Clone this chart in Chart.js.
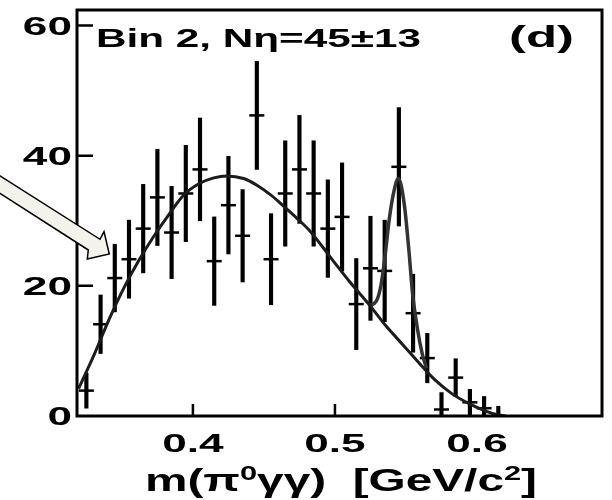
<!DOCTYPE html>
<html>
<head>
<meta charset="utf-8">
<script src="https://cdn.jsdelivr.net/npm/chart.js@4.4.1/dist/chart.umd.min.js"></script>
<style>
  html, body { margin: 0; padding: 0; background: #fff; }
  #wrap { width: 612px; height: 500px; }
</style>
</head>
<body>
<div id="wrap"><canvas id="massChart" width="612" height="500"></canvas></div>
<script>
// m(pi0 gamma gamma) spectrum, bin 2
const binCenters = [0.325, 0.335, 0.345, 0.355, 0.365, 0.375, 0.385, 0.395, 0.405, 0.415,
                    0.425, 0.435, 0.445, 0.455, 0.465, 0.475, 0.485, 0.495, 0.505, 0.515,
                    0.525, 0.535, 0.545, 0.555, 0.565, 0.575, 0.585, 0.595, 0.605, 0.615];
const counts = [3.9, 14.1, 21.2, 24.1, 28.8, 33.6, 28.2, 34.2, 37.9, 23.8,
                32.4, 27.7, 46.2, 24.1, 34.2, 37.9, 34.2, 28.8, 30.6, 17.2,
                22.7, 22.3, 38.3, 15.8, 8.9, 1.0, 5.9, 2.1, 1.2, 0];
const errors = [2.7, 4.5, 5.2, 6.0, 6.8, 7.4, 7.1, 7.4, 7.9, 6.8,
                7.5, 7.1, 8.3, 7.0, 8.1, 8.3, 8.1, 7.5, 8.3, 7.0,
                8.0, 7.8, 9.1, 6.0, 3.8, 2.6, 2.9, 2.0, 1.8, 1.5];

// fitted background
const bgX = [0.3195, 0.3308, 0.3413, 0.3517, 0.3622, 0.3727, 0.3832, 0.3937, 0.4042, 0.4147,
             0.4238, 0.4357, 0.4448, 0.4552, 0.4636, 0.4727, 0.4825, 0.4916, 0.5007, 0.5105,
             0.5175, 0.5245, 0.5357, 0.5476, 0.5594, 0.5706, 0.5825, 0.5944, 0.6056, 0.6154, 0.620];
const bgY = [4.2, 9.6, 15.0, 19.8, 24.0, 27.7, 31.0, 34.0, 35.7, 36.6,
             36.9, 36.5, 35.5, 33.9, 32.3, 30.5, 28.4, 25.9, 23.3, 20.6,
             18.8, 17.0, 13.9, 11.0, 8.1, 5.5, 3.4, 1.9, 0.8, 0.15, 0];

// total fit around the eta peak
const peakX = [0.5245, 0.5290, 0.5324, 0.5355, 0.5382, 0.5417, 0.5446, 0.5487, 0.5522, 0.5545, 0.5580, 0.5615, 0.5645];
const peakY = [17.0, 17.6, 20.1, 25.0, 30.2, 34.7, 36.5, 32.7, 25.1, 19.1, 13.5, 9.5, 7.3];

const xTickMarks = [0.4, 0.5];
const xTickLabels = ['0.4', '0.5', '0.6'];
const yTickMarks = [20, 40, 60];
const yTickLabels = ['0', '20', '40', '60'];

const binLabel = 'Bin 2, N\u03b7=45\u00b113';
const panelLabel = '(d)';
const FONT = '"Liberation Sans", Arial, sans-serif';

function stretchText(ctx, text, x, yBase, size, sx, align) {
    ctx.save();
    ctx.font = 'bold ' + size + 'px ' + FONT;
    ctx.translate(x, yBase);
    ctx.scale(sx, 1);
    ctx.textAlign = align;
    ctx.textBaseline = 'alphabetic';
    ctx.fillText(text, 0, 0);
    ctx.restore();
}

function fitText(ctx, text, left, yBase, size, width) {
    ctx.font = 'bold ' + size + 'px ' + FONT;
    const w = ctx.measureText(text).width;
    stretchText(ctx, text, left, yBase, size, width / w, 'left');
}

const framePlugin = {
    id: 'frame',
    afterDraw(chart) {
        const {ctx, chartArea: a, scales: {x, y}} = chart;
        ctx.save();
        ctx.fillStyle = '#000';
        ctx.strokeStyle = '#000';

        // box
        ctx.lineWidth = 3;
        ctx.strokeRect(a.left, a.top, a.right - a.left, a.bottom - a.top);

        // inward ticks
        ctx.lineWidth = 2.5;
        ctx.beginPath();
        yTickMarks.forEach(v => {
            const py = y.getPixelForValue(v);
            ctx.moveTo(a.left, py);
            ctx.lineTo(a.left + 16, py);
        });
        xTickMarks.forEach(v => {
            const px = x.getPixelForValue(v);
            ctx.moveTo(px, a.bottom);
            ctx.lineTo(px, a.bottom - 12);
        });
        ctx.stroke();

        // tick labels
        yTickLabels.forEach(t => {
            stretchText(ctx, t, a.left - 5, y.getPixelForValue(+t) + 9, 26, 1.7, 'right');
        });
        xTickLabels.forEach(t => {
            stretchText(ctx, t, x.getPixelForValue(+t), 452, 26, 1.7, 'center');
        });

        // axis title with superscripts
        const parts = [
            {t: 'm(\u03c0', sup: false},
            {t: '0', sup: true},
            {t: '\u03b3\u03b3)  [GeV/c', sup: false},
            {t: '2', sup: true},
            {t: ']', sup: false},
        ];
        let total = 0;
        parts.forEach(p => {
            ctx.font = 'bold ' + (p.sup ? 20 : 31) + 'px ' + FONT;
            p.w = ctx.measureText(p.t).width;
            total += p.w;
        });
        const sx = 392 / total;
        let cx = 145;
        parts.forEach(p => {
            stretchText(ctx, p.t, cx, p.sup ? 480 : 491, p.sup ? 20 : 31, sx, 'left');
            cx += p.w * sx;
        });

        // in-frame labels
        fitText(ctx, binLabel, 96, 47, 25, 325);
        fitText(ctx, panelLabel, 509, 47, 30, 65);

        // hollow arrow pointing at the curve
        ctx.beginPath();
        ctx.moveTo(-5, 172.8);
        ctx.lineTo(100, 239.3);
        ctx.lineTo(104, 231.7);
        ctx.lineTo(109.3, 254);
        ctx.lineTo(87.3, 259);
        ctx.lineTo(88.3, 250);
        ctx.lineTo(-5, 190.1);
        ctx.closePath();
        ctx.fillStyle = '#f3f3ec';
        ctx.fill();
        ctx.lineWidth = 1.5;
        ctx.lineJoin = 'miter';
        ctx.stroke();

        ctx.restore();
    }
};

const errBars = binCenters.map((x, i) => ({x: x, y: [counts[i] - errors[i], counts[i] + errors[i]]}));
const centers = binCenters.map((x, i) => ({x: x, y: counts[i]}));
const bgLine = bgX.map((x, i) => ({x: x, y: bgY[i]}));
const peakLine = peakX.map((x, i) => ({x: x, y: peakY[i]}));

new Chart(document.getElementById('massChart'), {
    type: 'bar',
    data: {
        datasets: [{
            type: 'line',
            data: bgLine,
            borderColor: '#1c1c1c',
            borderWidth: 3,
            pointRadius: 0,
            cubicInterpolationMode: 'monotone',
        }, {
            type: 'line',
            data: peakLine,
            borderColor: '#333333',
            borderWidth: 3.5,
            pointRadius: 0,
            cubicInterpolationMode: 'monotone',
        }, {
            type: 'bar',
            data: errBars,
            backgroundColor: '#000',
            borderWidth: 0,
            barThickness: 3.5,
        }, {
            type: 'scatter',
            data: centers,
            pointStyle: 'line',
            pointRadius: 7.5,
            borderColor: '#000',
            borderWidth: 2.5,
            backgroundColor: '#000',
        }]
    },
    options: {
        responsive: false,
        devicePixelRatio: 1,
        animation: false,
        layout: {
            padding: {left: 77, top: 4, right: 6, bottom: 84}
        },
        scales: {
            x: {
                type: 'linear',
                display: false,
                offset: false,
                min: 0.3184,
                max: 0.688,
            },
            y: {
                type: 'linear',
                display: false,
                min: 0,
                max: 62.4,
            }
        },
        plugins: {
            legend: {display: false},
            tooltip: {enabled: false},
        }
    },
    plugins: [framePlugin]
});
</script>
</body>
</html>
